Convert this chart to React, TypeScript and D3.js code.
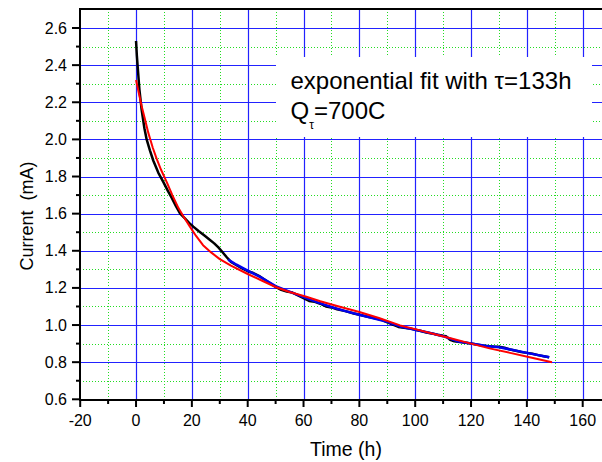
import React from "react";
import * as d3 from "d3";

// Measured current (black)
const measT = [0, 0.3, 0.6, 1.2, 2.0, 3.0, 3.8, 5.0, 6.2, 8.0, 9.8, 11.5, 12.8, 14.3, 15.8, 17.5, 19, 20.5, 22.5, 24.5, 26.5, 28, 29.5, 31, 32.5, 34, 36, 38, 40, 42, 44, 46, 48, 50, 52, 54, 56, 58, 60, 62, 64, 66, 68, 70, 72, 75, 78, 80, 83, 86, 88, 90, 92, 94, 96, 98, 100, 102, 104, 106, 108, 110, 111, 112.5, 114, 116, 118, 120, 122, 124, 126, 128, 130, 132, 134, 136, 138, 140, 142, 144, 146, 148];
const measI = [2.53, 2.45, 2.39, 2.27, 2.16, 2.06, 2.0, 1.94, 1.885, 1.82, 1.77, 1.72, 1.685, 1.64, 1.6, 1.575, 1.55, 1.53, 1.505, 1.482, 1.458, 1.44, 1.418, 1.392, 1.365, 1.34, 1.322, 1.305, 1.29, 1.28, 1.265, 1.245, 1.225, 1.205, 1.19, 1.18, 1.175, 1.16, 1.145, 1.13, 1.125, 1.115, 1.1, 1.095, 1.085, 1.075, 1.062, 1.055, 1.045, 1.035, 1.028, 1.015, 1.003, 0.99, 0.985, 0.982, 0.975, 0.968, 0.96, 0.955, 0.948, 0.942, 0.94, 0.92, 0.912, 0.908, 0.905, 0.9, 0.895, 0.89, 0.886, 0.884, 0.883, 0.878, 0.868, 0.862, 0.855, 0.85, 0.845, 0.838, 0.832, 0.826];

// Exponential fit (red)
const fitT = [0, 1, 2, 3, 4.4, 6, 7.4, 9, 11, 13, 15.2, 17, 19.3, 21.5, 24, 27, 30, 34, 40, 45, 50, 55, 61, 66, 72, 80, 87, 94.6, 100, 107, 113, 120, 127, 134, 141, 149];
const fitI = [2.32, 2.25, 2.18, 2.12, 2.035, 1.955, 1.895, 1.835, 1.77, 1.7, 1.63, 1.585, 1.53, 1.48, 1.43, 1.39, 1.355, 1.32, 1.275, 1.24, 1.205, 1.178, 1.152, 1.128, 1.103, 1.07, 1.038, 0.998, 0.978, 0.95, 0.927, 0.9, 0.873, 0.85, 0.826, 0.8];

// Blue overlay
const blueT = [33, 36, 40, 45, 50, 55, 60, 65, 70, 75, 80, 85, 90, 95, 100, 105, 110, 115, 120, 125, 130, 135, 140, 148];
const blueI = [1.352, 1.325, 1.293, 1.255, 1.21, 1.18, 1.15, 1.122, 1.097, 1.075, 1.055, 1.037, 1.017, 0.99, 0.975, 0.958, 0.94, 0.913, 0.9, 0.888, 0.88, 0.866, 0.85, 0.826];

const xMajor = [-20, 0, 20, 40, 60, 80, 100, 120, 140, 160];
const xMinor = [-10, 10, 30, 50, 70, 90, 110, 130, 150, 170];
const yMajor = [0.6, 0.8, 1.0, 1.2, 1.4, 1.6, 1.8, 2.0, 2.2, 2.4, 2.6];
const yMinor = [0.7, 0.9, 1.1, 1.3, 1.5, 1.7, 1.9, 2.1, 2.3, 2.5];

const W = 602;
const H = 462;
const left = 80;
const right = 602;
const top = 9;
const bottom = 400;

export default function App() {
  const x = d3.scaleLinear().domain([-20, 160]).range([80.2, 582.7]);
  const y = d3.scaleLinear().domain([0.6, 2.6]).range([399.3, 28]);
  const line = (ts: number[], is: number[]) =>
    d3.line<number>().x((_, i) => x(ts[i])).y((_, i) => y(is[i])).curve(d3.curveLinear)(ts) || "";
  const font = "'Liberation Sans', Arial, sans-serif";
  const fx = (v: number) => Math.round(x(v)) + 0.5;
  const fy = (v: number) => Math.round(y(v)) + 0.5;
  return (
    <svg width={W} height={H} style={{ position: "absolute", left: 0, top: 0, background: "#fff" }} fontFamily={font}>
      <rect x={0} y={0} width={W} height={H} fill="#fff" />
      {/* minor grid */}
      {xMinor.map((v) => (
        <line key={"xm" + v} x1={fx(v)} x2={fx(v)} y1={top} y2={bottom} stroke="#22dd22" strokeWidth={1} strokeDasharray="1,2" />
      ))}
      {yMinor.map((v) => (
        <line key={"ym" + v} x1={left} x2={right} y1={fy(v)} y2={fy(v)} stroke="#22dd22" strokeWidth={1} strokeDasharray="1,2" />
      ))}
      {/* major grid */}
      {xMajor.filter((v) => v > -20).map((v) => (
        <line key={"xM" + v} x1={fx(v)} x2={fx(v)} y1={top} y2={bottom} stroke="#2222ff" strokeWidth={1.2} />
      ))}
      {yMajor.filter((v) => v > 0.6).map((v) => (
        <line key={"yM" + v} x1={left} x2={right} y1={fy(v)} y2={fy(v)} stroke="#2222ff" strokeWidth={1.2} />
      ))}
      {/* annotation box */}
      <rect x={276} y={57} width={316} height={80} fill="#fff" />
      <text x={290.5} y={89} fontSize={24} fill="#000">exponential fit with τ=133h</text>
      <text x={290.5} y={119} fontSize={24} fill="#000">
        Q<tspan fontSize={12} dy={10}>τ</tspan><tspan dy={-10}>=700C</tspan>
      </text>
      {/* data */}
      <path d={line(measT, measI)} fill="none" stroke="#000" strokeWidth={2.5} strokeLinejoin="round" />
      <path d={line(blueT, blueI)} fill="none" stroke="#0000ee" strokeWidth={2.5} strokeLinejoin="round" />
      <path d={line(fitT, fitI)} fill="none" stroke="#ff0000" strokeWidth={2} strokeLinejoin="round" />
      {/* axes */}
      <line x1={left} x2={right} y1={top} y2={top} stroke="#000" strokeWidth={2} />
      <line x1={left} x2={left} y1={top - 1} y2={bottom + 1} stroke="#000" strokeWidth={2} />
      <line x1={left - 1} x2={right} y1={bottom} y2={bottom} stroke="#000" strokeWidth={2} />
      {xMajor.map((v) => (
        <g key={"xt" + v}>
          <line x1={x(v)} x2={x(v)} y1={bottom} y2={bottom + 7} stroke="#000" strokeWidth={2} />
          <text x={x(v)} y={426} fontSize={16} textAnchor="middle" fill="#000">{v}</text>
        </g>
      ))}
      {xMinor.map((v) => (
        <line key={"xmt" + v} x1={x(v)} x2={x(v)} y1={bottom} y2={bottom + 4} stroke="#000" strokeWidth={2} />
      ))}
      {yMajor.map((v) => (
        <g key={"yt" + v}>
          <line x1={left - 8} x2={left} y1={y(v)} y2={y(v)} stroke="#000" strokeWidth={2} />
          <text x={67} y={y(v) + 5.5} fontSize={16} textAnchor="end" fill="#000">{v.toFixed(1)}</text>
        </g>
      ))}
      {yMinor.map((v) => (
        <line key={"ymt" + v} x1={left - 4} x2={left} y1={y(v)} y2={y(v)} stroke="#000" strokeWidth={2} />
      ))}
      <text x={346} y={456} fontSize={19.5} textAnchor="middle" fill="#000">Time (h)</text>
      <text transform="translate(33,216) rotate(-90)" fontSize={18} textAnchor="middle" fill="#000" xmlSpace="preserve">Current  (mA)</text>
    </svg>
  );
}
